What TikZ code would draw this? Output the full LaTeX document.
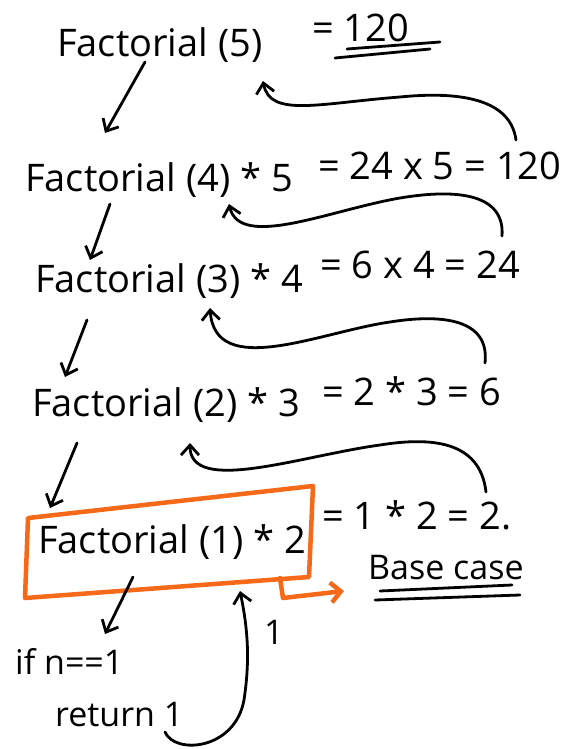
\documentclass[tikz,border=0pt]{standalone}
\usepackage{fontspec}
\setmainfont{Open Sans}
\usetikzlibrary{arrows.meta}
\definecolor{hlorange}{RGB}{245,105,25}
\tikzset{
  txt/.style={anchor=west,inner sep=0pt,font=\fontsize{38}{42}\selectfont},
  stxt/.style={anchor=west,inner sep=0pt,font=\fontsize{34}{38}\selectfont},
  pen/.style={line width=2.8pt,line cap=round,line join=round},
  barb/.style={pen,-{Straight Barb[length=10pt,width=18pt,line width=2.8pt]}},
  obarb/.style={line width=4.5pt,line cap=round,line join=round,draw=hlorange,-{Straight Barb[length=10pt,width=20pt,line width=4.5pt]}}
}
\begin{document}
\begin{tikzpicture}[x=1pt,y=-1pt]
\useasboundingbox (0,0) rectangle (569,749);
% rows
\node[txt] (n5) at (57,45) {Factorial (5)};
\node[txt] (e5) at (312,28) {= 120};
\node[txt] (n4) at (25,180) {Factorial (4) * 5};
\node[txt] (e4) at (318,166) {= 24 x 5 = 120};
\node[txt] (n3) at (35,281) {Factorial (3) * 4};
\node[txt] (e3) at (320,265) {= 6 x 4 = 24};
\node[txt] (n2) at (32,405) {Factorial (2) * 3};
\node[txt] (e2) at (322,391) {= 2 * 3 = 6};
\node[txt] (n1) at (38,542) {Factorial (1) * 2};
\node[txt] (e1) at (322,515) {= 1 * 2 = 2.};
\node[stxt] (bc) at (368,568) {Base case};
\node[stxt] (cond) at (15,661) {if n==1};
\node[stxt] (ret) at (55,715) {return 1};
\node[stxt] (one) at (264,632) {1};
% underlines
\draw[pen] (347,49) -- (440,42);
\draw[pen] (335,58) -- (430,49);
\draw[pen] (380,591) -- (512,585);
\draw[pen] (375,600) -- (520,595);
% box
\draw[line width=4.5pt,draw=hlorange,line join=round] (28,518) -- (313,486) -- (309,577) -- (25,598) -- cycle;
\coordinate (bx) at (280,578);
\coordinate (bk) at (283,598);
\draw[obarb] (bx) -- (bk) -- (344,591);
% down arrows
\coordinate (d5) at (145,62); \coordinate (t4) at (105,133);
\coordinate (d4) at (110,204); \coordinate (t3) at (90,260);
\coordinate (d3) at (87,320); \coordinate (t2) at (65,377);
\coordinate (d2) at (77,443); \coordinate (t1) at (50,508);
\coordinate (d1) at (133,577); \coordinate (tc) at (105,634);
\draw[barb] (d5) -- (t4);
\draw[barb] (d4) -- (t3);
\draw[barb] (d3) -- (t2);
\draw[barb] (d2) -- (t1);
\draw[barb] (d1) -- (tc);
% return curves
\coordinate (r4) at (516,140); \coordinate (h5) at (263,81);
\coordinate (r3) at (502,236); \coordinate (h4) at (229,204);
\coordinate (r2) at (485,363); \coordinate (h3) at (210,308);
\coordinate (r1) at (486,492); \coordinate (h2) at (190,443);
\coordinate (r0) at (165,732); \coordinate (h1) at (240,591);
\draw[barb] (r4) .. controls (510,95) and (450,92) .. (400,97) .. controls (320,103) and (270,118) .. (h5);
\draw[barb] (r3) .. controls (505,195) and (460,188) .. (400,198) .. controls (330,210) and (240,250) .. (h4);
\draw[barb] (r2) .. controls (490,318) and (440,314) .. (390,322) .. controls (320,332) and (215,380) .. (h3);
\draw[barb] (r1) .. controls (480,440) and (430,437) .. (380,445) .. controls (300,456) and (190,495) .. (h2);
\draw[barb] (r0) .. controls (175,755) and (235,750) .. (244,700) .. controls (250,660) and (248,630) .. (h1);
\end{tikzpicture}
\end{document}
